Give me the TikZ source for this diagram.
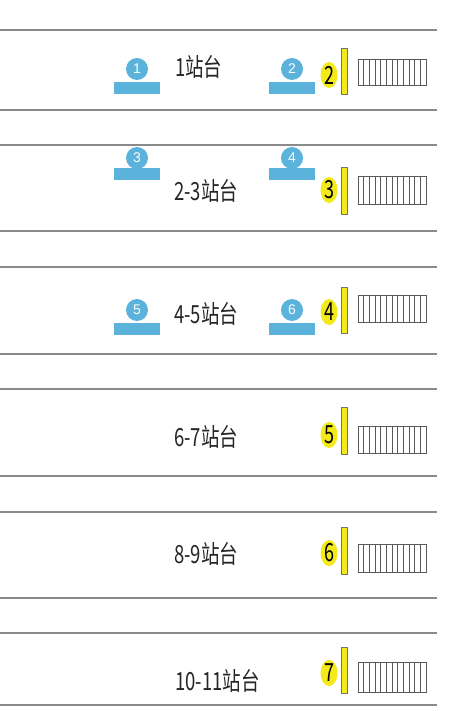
\documentclass[tikz,border=0pt]{standalone}
\usepackage{fontspec}
\usetikzlibrary{shapes.geometric}
\newfontfamily\cjk{Noto Sans CJK SC}
\setmainfont{Liberation Sans}
\definecolor{lineg}{HTML}{8A8A8A}
\definecolor{bluec}{HTML}{5BB3DB}
\definecolor{yel}{HTML}{F4EA1A}
\begin{document}
\begin{tikzpicture}[x=1pt,y=-1pt,
  hline/.style={draw=lineg,line width=1.6pt},
  bluebar/.style={fill=bluec,draw=none},
  bluecirc/.style={circle,fill=bluec,minimum size=22pt,inner sep=0pt,text=white,font=\fontsize{14}{14}\selectfont},
  lbl/.style={anchor=west,inner sep=0pt,font=\cjk\fontsize{25}{25}\selectfont,xscale=0.74,text=black!85},
  ynum/.style={ellipse,fill=yel,minimum width=17pt,minimum height=26pt,inner sep=0pt},
  ynumtxt/.style={inner sep=0pt,font=\cjk\fontsize{25}{25}\selectfont,xscale=0.72},
  ybar/.style={fill=yel,draw=black!55,line width=0.5pt},
  stair/.style={draw=black!65,line width=0.8pt,fill=white}]
\useasboundingbox (0,0) rectangle (455,711);
\fill[white] (0,0) rectangle (455,711);
% horizontal lines
\foreach \y in {30,110,145,231,267,354,389,476,512,598,633,705}
  \draw[hline] (0,\y) -- (437,\y);
% blue markers
\foreach \n/\x/\cy/\by in {1/137/69/82,2/292/69/82,3/137/158/168,4/292/158/168,5/137/310/323,6/292/310/323}{
  \fill[bluebar] (\x-23,\by) rectangle (\x+23,\by+12);
  \node[bluecirc] (c\n) at (\x,\cy) {\n};
}
% labels
\node[lbl] (l1) at (175,67) {1站台};
\node[lbl] (l2) at (174,191) {2-3站台};
\node[lbl] (l3) at (174,314) {4-5站台};
\node[lbl] (l4) at (174,437) {6-7站台};
\node[lbl] (l5) at (174,554) {8-9站台};
\node[lbl] (l6) at (175,681) {10-11站台};
% yellow numbers, bars, stairs
\foreach \n/\ey/\bt/\bb/\st/\sb in {2/75/48/94/59/85,3/190/167/214/176/204,4/312/287/333/295/322,5/435/407/454/426/453,6/553/527/574/544/572,7/673/647/693/662/692}{
  \node[ynum] (e\n) at (329,\ey) {};
  \node[ynumtxt] (t\n) at (329,\ey) {\n};
  \draw[ybar] (341,\bt) rectangle (347,\bb);
  \draw[stair] (358,\st) rectangle (426,\sb);
  \foreach \i in {1,...,11}
    \draw[black!65,line width=0.6pt] (358+\i*68/12,\st) -- (358+\i*68/12,\sb);
}
\end{tikzpicture}
\end{document}
